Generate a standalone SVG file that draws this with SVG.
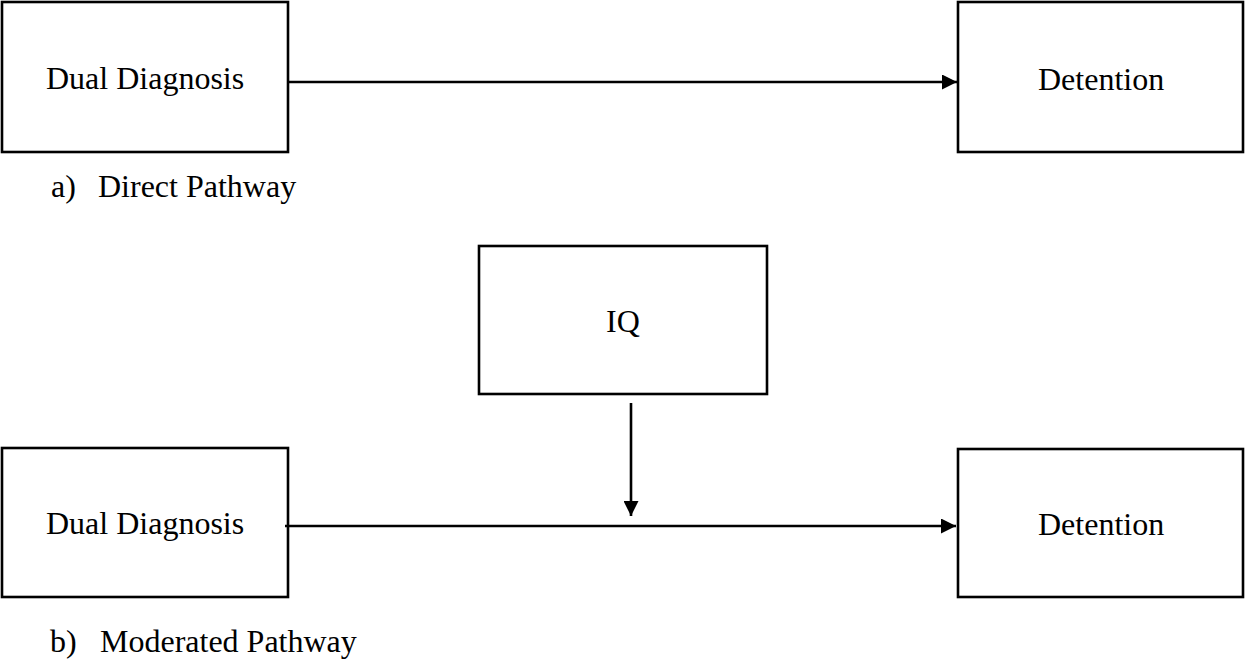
<svg xmlns="http://www.w3.org/2000/svg" width="1245" height="663" viewBox="0 0 1245 663">
  <style>
    .box { fill: #ffffff; stroke: #000000; stroke-width: 2.6; }
    .label { font-family: "Liberation Serif", "Times New Roman", serif; font-size: 32px; fill: #000000; }
    .edge { stroke: #000000; stroke-width: 2.6; fill: none; }
  </style>
  <defs>
    <marker id="arrow" viewBox="0 0 10 10" refX="10" refY="5" markerWidth="15" markerHeight="15" markerUnits="userSpaceOnUse" orient="auto">
      <path d="M0,0 L10,5 L0,10 Z" fill="#000000"/>
    </marker>
  </defs>
  <rect width="1245" height="663" fill="#ffffff"/>

  <!-- a) direct pathway -->
  <g id="dual-a">
    <rect class="box" x="2" y="2" width="286" height="150"/>
    <text class="label" x="46" y="89">Dual Diagnosis</text>
  </g>
  <g id="detention-a">
    <rect class="box" x="958" y="2" width="285" height="150"/>
    <text class="label" x="1038" y="90">Detention</text>
  </g>
  <text class="label" x="51" y="197">a)</text>
  <text class="label" x="98" y="197">Direct Pathway</text>

  <!-- b) moderated pathway -->
  <g id="iq">
    <rect class="box" x="479" y="246" width="288" height="148"/>
    <text class="label" x="623" y="332" text-anchor="middle">IQ</text>
  </g>
  <g id="dual-b">
    <rect class="box" x="2" y="448" width="286" height="149"/>
    <text class="label" x="46" y="534">Dual Diagnosis</text>
  </g>
  <g id="detention-b">
    <rect class="box" x="958" y="449" width="285" height="148"/>
    <text class="label" x="1038" y="535">Detention</text>
  </g>
  <text class="label" x="50" y="652">b)</text>
  <text class="label" x="100" y="652">Moderated Pathway</text>

  <g id="connectors">
    <line class="edge" x1="288" y1="82" x2="957" y2="82" marker-end="url(#arrow)"/>
    <line class="edge" x1="285" y1="526" x2="956" y2="526" marker-end="url(#arrow)"/>
    <line class="edge" x1="631" y1="403" x2="631" y2="516" marker-end="url(#arrow)"/>
  </g>
</svg>
